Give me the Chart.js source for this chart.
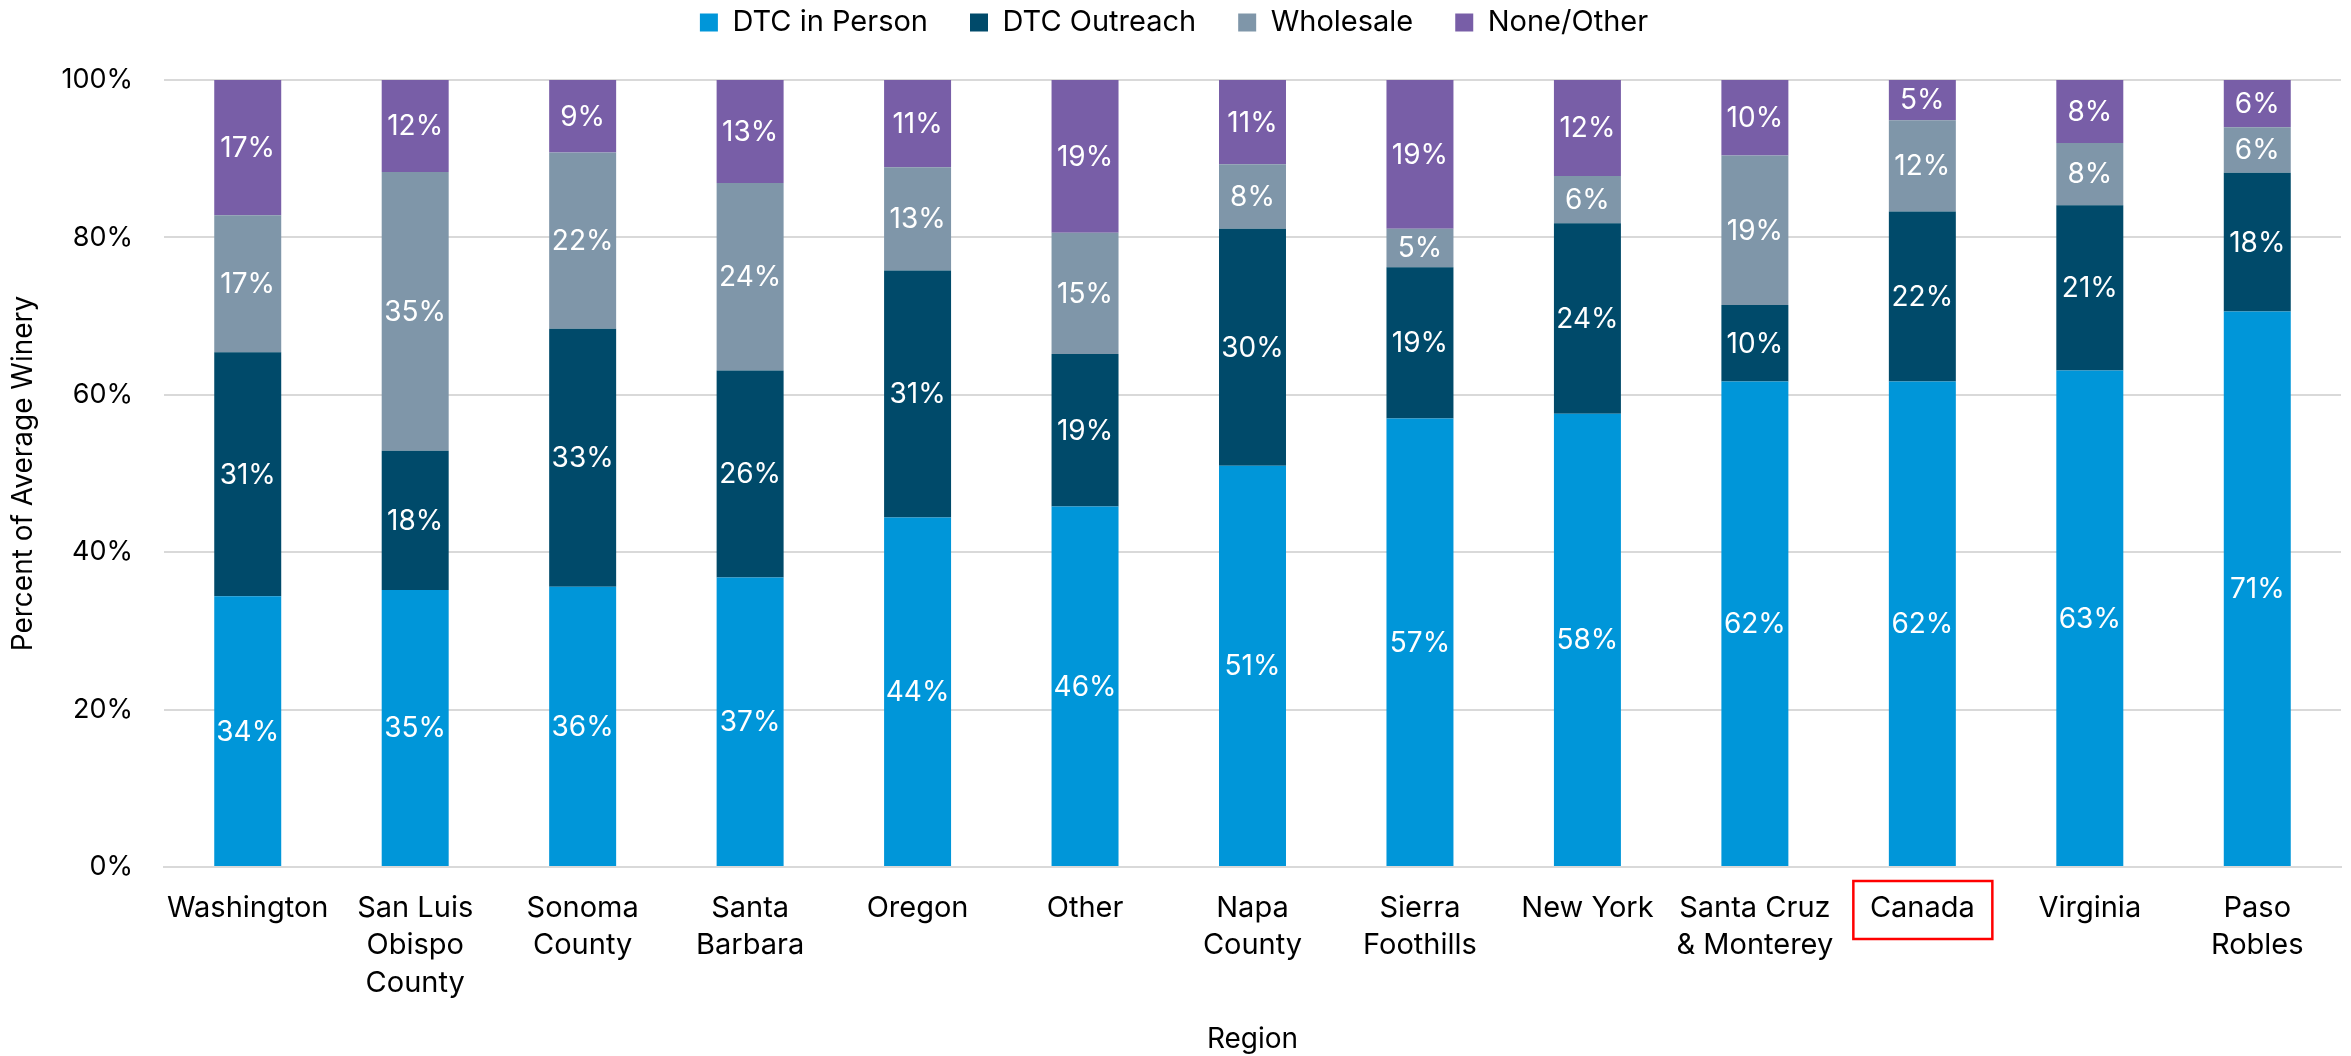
<!DOCTYPE html>
<html>
<head>
<meta charset="utf-8">
<script src="https://cdn.jsdelivr.net/npm/chart.js@4/dist/chart.umd.min.js"></script>
<style>
  html, body { margin: 0; padding: 0; background: #fff; }
  #wrap { width: 2351px; height: 1056px; }
</style>
</head>
<body>
<div id="wrap"><canvas id="chart" width="2351" height="1056"></canvas></div>
<script>
// regions, sorted by share of DTC in person sales
const regions = [
  'Washington', ['San Luis', 'Obispo', 'County'], ['Sonoma', 'County'], ['Santa', 'Barbara'],
  'Oregon', 'Other', ['Napa', 'County'], ['Sierra', 'Foothills'], 'New York',
  ['Santa Cruz', '& Monterey'], 'Canada', 'Virginia', ['Paso', 'Robles']
];

// percent of sales per channel
const dtcInPerson = [34.4, 35.2, 35.6, 36.8, 44.4, 45.8, 51.0, 57.0, 57.6, 61.7, 61.7, 63.1, 70.6];
const dtcOutreach = [31.0, 17.7, 32.8, 26.3, 31.4, 19.4, 30.1, 19.2, 24.2, 9.7, 21.6, 21.0, 17.6];
const wholesale   = [17.4, 35.4, 22.4, 23.8, 13.1, 15.4, 8.2, 4.9, 6.0, 19.0, 11.6, 7.9, 5.8];
const noneOther   = [17.2, 11.7, 9.2, 13.1, 11.1, 19.4, 10.7, 18.9, 12.2, 9.6, 5.1, 8.0, 6.0];

const yTicks = [0, 20, 40, 60, 80, 100];
const highlighted = 'Canada';

const FONT = 'Inter, "Noto Sans", sans-serif';

// extra room under the legend
const legendGap = {
  id: 'legendGap',
  beforeInit(chart) {
    const fit = chart.legend.fit;
    chart.legend.fit = function () {
      fit.bind(chart.legend)();
      this.height += 33;
    };
  }
};

// white percentage in the middle of every segment
const segmentLabels = {
  id: 'segmentLabels',
  afterDatasetsDraw(chart) {
    const ctx = chart.ctx;
    ctx.save();
    ctx.fillStyle = '#ffffff';
    ctx.font = '28px ' + FONT;
    ctx.textAlign = 'center';
    ctx.textBaseline = 'middle';
    chart.data.datasets.forEach((ds, i) => {
      chart.getDatasetMeta(i).data.forEach((bar, j) => {
        const v = ds.data[j];
        ctx.fillText(Math.round(v) + '%', bar.x, (bar.y + bar.base) / 2 + 1);
      });
    });
    ctx.restore();
  }
};

// red frame around one region name
const frameLabel = {
  id: 'frameLabel',
  afterDraw(chart) {
    const idx = regions.indexOf(highlighted);
    if (idx < 0) return;
    const sx = chart.scales.x;
    const cx = sx.getPixelForValue(idx);
    const ctx = chart.ctx;
    ctx.save();
    ctx.strokeStyle = '#ff0000';
    ctx.lineWidth = 2.5;
    ctx.strokeRect(cx - 69, sx.top + 14, 139, 58);
    ctx.restore();
  }
};

const makeSet = (label, data, color) => ({
  label, data,
  backgroundColor: color,
  borderWidth: 0,
  barPercentage: 0.4,
  categoryPercentage: 1.0
});

new Chart(document.getElementById('chart'), {
  type: 'bar',
  data: {
    labels: regions,
    datasets: [
      makeSet('DTC in Person', dtcInPerson, '#0096d9'),
      makeSet('DTC Outreach', dtcOutreach, '#004a6a'),
      makeSet('Wholesale', wholesale, '#7f96a9'),
      makeSet('None/Other', noneOther, '#785ea7')
    ]
  },
  options: {
    responsive: false,
    animation: false,
    layout: { padding: { top: -34, right: 10, left: 7, bottom: 0 } },
    plugins: {
      legend: {
        position: 'top',
        labels: {
          color: '#000',
          font: { family: FONT, size: 29 },
          boxWidth: 18,
          boxHeight: 18,
          padding: 42
        }
      },
      tooltip: { enabled: false }
    },
    scales: {
      x: {
        stacked: true,
        afterFit(axis) { axis.height = 189; },
        grid: { display: false, drawTicks: false },
        border: { display: true, color: '#d9d9d9', width: 2 },
        ticks: {
          color: '#000',
          font: { family: FONT, size: 29, lineHeight: 1.3 },
          maxRotation: 0,
          autoSkip: false,
          padding: 22
        },
        title: {
          display: true,
          text: 'Region',
          color: '#000',
          font: { family: FONT, size: 28 },
          padding: { top: 0, bottom: 0 }
        }
      },
      y: {
        stacked: true,
        min: 0,
        max: 100,
        afterBuildTicks(axis) { axis.ticks = yTicks.map(v => ({ value: v })); },
        afterFit(axis) { axis.width = 157; },
        grid: { color: '#d9d9d9', lineWidth: 2, drawTicks: false },
        border: { display: false },
        ticks: {
          color: '#000',
          font: { family: FONT, size: 27 },
          padding: 31,
          callback: v => v + '%'
        },
        title: {
          display: true,
          text: 'Percent of Average Winery',
          color: '#000',
          font: { family: FONT, size: 28 },
          padding: { top: 0, bottom: 0 }
        }
      }
    }
  },
  plugins: [legendGap, segmentLabels, frameLabel]
});
</script>
</body>
</html>
